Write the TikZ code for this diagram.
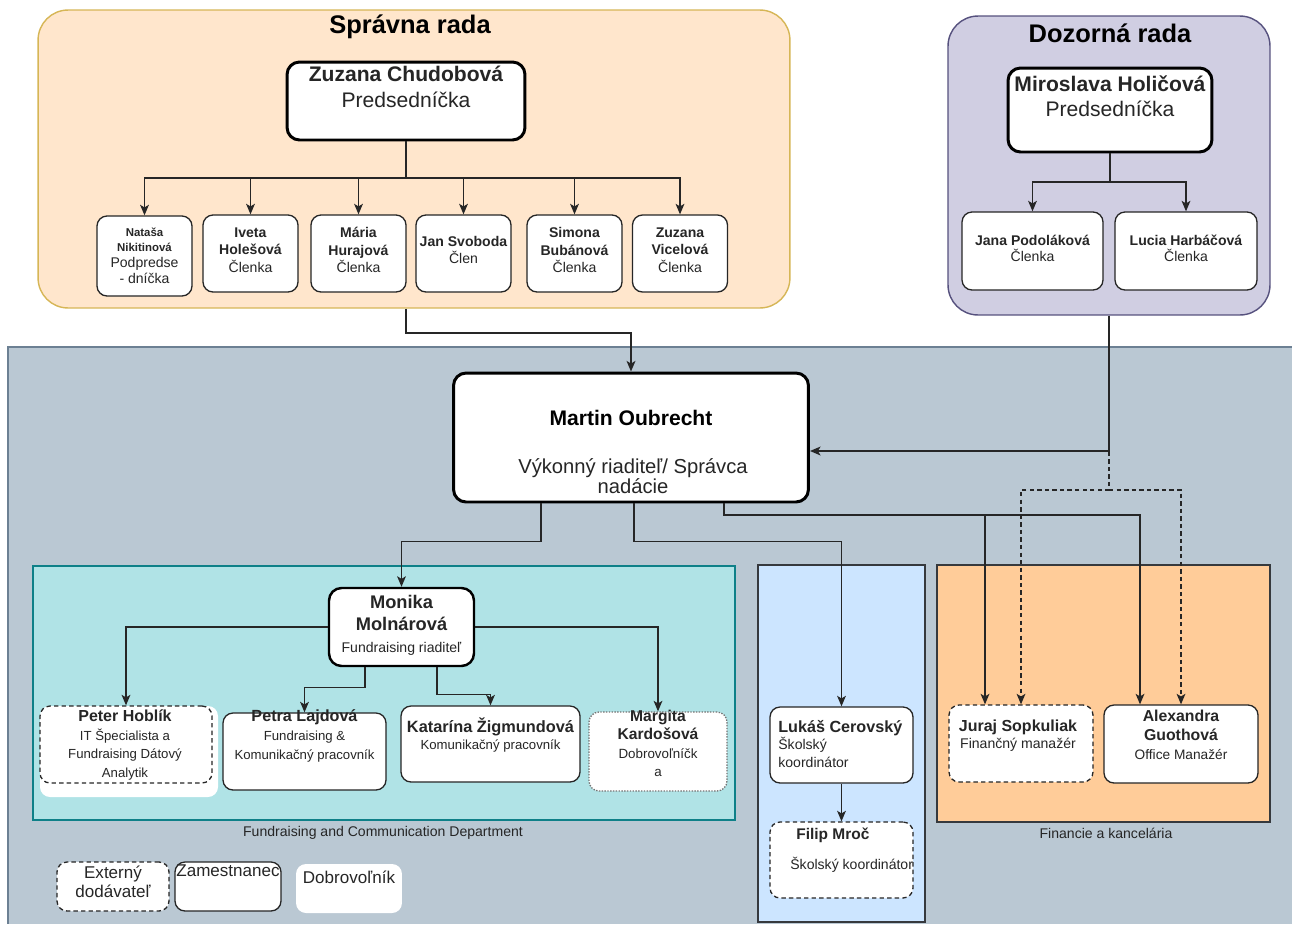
\documentclass[tikz,border=0pt]{standalone}
\usepackage{fontspec}
\setmainfont{Liberation Sans}
\usetikzlibrary{arrows.meta}

\definecolor{srfill}{HTML}{FFE6CC}
\definecolor{srline}{HTML}{D6B656}
\definecolor{drfill}{HTML}{D0CEE2}
\definecolor{drline}{HTML}{56517E}
\definecolor{bgfill}{HTML}{BAC8D3}
\definecolor{bgline}{HTML}{6C8093}
\definecolor{fcfill}{HTML}{B0E3E6}
\definecolor{fcline}{HTML}{0E8088}
\definecolor{skfill}{HTML}{CCE5FF}
\definecolor{fkfill}{HTML}{FFCC99}
\definecolor{deptline}{HTML}{36393D}
\definecolor{ink}{HTML}{262626}

\newcommand{\fsz}[2]{\fontsize{#1}{#2}\selectfont}
\newcommand{\bnm}[2]{{\fontsize{#1}{#1}\selectfont\bfseries #2}}

\begin{document}
\begin{tikzpicture}[
    x=0.02cm, y=-0.02cm,
    board/.style={draw=#1, rounded corners=0.6cm, line width=0.8pt, inner sep=0pt},
    dept/.style={draw=deptline, line width=0.6pt},
    card/.style={draw=ink, fill=white, rounded corners=0.2cm, line width=0.75pt, inner sep=0pt},
    lead/.style={card, draw=black, line width=1.7pt, rounded corners=0.25cm},
    extern/.style={card, dash pattern=on 2.5pt off 1.8pt},
    volunt/.style={card, draw=black!55, dash pattern=on 0.8pt off 0.8pt},
    txt/.style={align=center, inner sep=0pt, text=ink},
    link/.style={draw=ink, line width=0.75pt, -{Stealth[length=6pt,width=5pt,inset=1.5pt]}},
    xlink/.style={link, dash pattern=on 2.5pt off 1.8pt},
    ]

    \useasboundingbox (0,0) rectangle (1292,924);

    % Staff area
    \fill[bgfill] (8,347) rectangle (1292,924);
    \draw[bgline, line width=0.6pt] (1292,347) -- (8,347) -- (8,924);

    % Boards
    \node[board=srline, fill=srfill, minimum width=15.04cm, minimum height=5.96cm] (sr) at (414,159) {};
    \node[board=drline, fill=drfill, minimum width=6.44cm, minimum height=5.98cm] (dr) at (1109,165.5) {};
    \node[txt, font=\fsz{14.5}{17}\bfseries, text=black] (srt) at (410,27) {Správna rada};
    \node[txt, font=\fsz{14.5}{17}\bfseries, text=black] (drt) at (1110,33) {Dozorná rada};

    % Departments
    \draw[dept, draw=fcline, fill=fcfill] (33,566) rectangle (735,820);
    \draw[dept, fill=skfill] (758,565) rectangle (925,922);
    \draw[dept, fill=fkfill] (937,565) rectangle (1270,822);
    \node[txt, font=\fsz{8}{10}] (fct) at (383,833) {Fundraising and Communication Department};
    \node[txt, font=\fsz{8}{10}] (fkt) at (1106,833) {Financie a kancelária};

    % Správna rada
    \node[lead, minimum width=4.76cm, minimum height=1.56cm] (zc) at (406,101) {};
    \node[txt, font=\fsz{12}{14.8}] (zc-t) at (406,87) {\textbf{Zuzana Chudobová}\\Predsedníčka};
    \coordinate (sbus) at (0,178);
    \draw[ink, line width=1.4pt] (zc.south) -- (zc.south |- sbus);

    \node[card, minimum width=1.9cm, minimum height=1.6cm] (nn) at (144.5,256) {};
    \node[txt, font=\fsz{8}{8.9}] (nn-t) at (144.5,255.5) {\bnm{6.5}{Nataša}\\\bnm{6.5}{Nikitinová}\\Podpredse\\- dníčka};
    \draw[link] (zc.south |- sbus) -| (nn.north);
    \foreach \n/\x/\who in {
        ih/250.5/{\textbf{Iveta}\\\textbf{Holešová}\\Členka},
        mhu/358.5/{\textbf{Mária}\\\textbf{Hurajová}\\Členka},
        jsv/463.5/{\textbf{Jan Svoboda}\\Člen},
        sb/574.5/{\textbf{Simona}\\\textbf{Bubánová}\\Členka},
        zv/680/{\textbf{Zuzana}\\\textbf{Vicelová}\\Členka}}{
        \node[card, minimum width=1.9cm, minimum height=1.54cm] (\n) at (\x,253.5) {};
        \node[txt, font=\fsz{8}{9.9}] (\n-t) at (\x,250) {\who};
        \draw[link] (zc.south |- sbus) -| (\n.north);
    }

    % Dozorná rada
    \node[lead, minimum width=4.08cm, minimum height=1.68cm] (mh) at (1110,110) {};
    \node[txt, font=\fsz{12}{14.5}] (mh-t) at (1110,96) {\textbf{Miroslava Holičová}\\Predsedníčka};
    \coordinate (dbus) at (0,182);
    \node[card, minimum width=2.82cm, minimum height=1.56cm] (jp) at (1032.5,251) {};
    \node[card, minimum width=2.84cm, minimum height=1.56cm] (lh) at (1186,251) {};
    \node[txt, font=\fsz{8}{9.2}] (jp-t) at (1032.5,248) {\textbf{Jana Podoláková}\\Členka};
    \node[txt, font=\fsz{8}{9.2}] (lh-t) at (1186,248) {\textbf{Lucia Harbáčová}\\Členka};
    \draw[link] (mh.south) -- (mh.south |- dbus) -| (jp.north);
    \draw[link] (mh.south |- dbus) -| (lh.north);

    % Executive director
    \node[lead, minimum width=7.1cm, minimum height=2.58cm] (mo) at (631,437.5) {};
    \node[txt, font=\fsz{12}{14}\bfseries, text=black] (mo-t) at (631,418) {Martin Oubrecht};
    \node[txt, font=\fsz{11.5}{11.4}] (mo-r) at (633,476) {Výkonný riaditeľ/ Správca\\nadácie};
    \draw[link, line width=1.1pt] (zc.south |- sr.south) -- ++(0,24) -| (mo.north);
    \draw[link, line width=1.1pt] (dr.south) |- ([yshift=-0.27cm]mo.east);

    % Fundraising and communication
    \node[lead, line width=1.4pt, minimum width=2.9cm, minimum height=1.56cm] (mm) at (401.5,627) {};
    \node[txt, font=\fsz{8}{12.5}] (mm-t) at (401.5,625) {\bnm{10.4}{Monika}\\\bnm{10.4}{Molnárová}\\Fundraising riaditeľ};
    \fill[white, rounded corners=0.2cm] (40,706) rectangle (218,797);
    \node[extern, minimum width=3.44cm, minimum height=1.54cm] (ph) at (126,744.5) {};
    \node[txt, font=\fsz{7.5}{10.7}] (ph-t) at (125,745) {\bnm{9.1}{Peter Hoblík}\\IT Špecialista a\\Fundraising Dátový\\Analytik};
    \node[card, minimum width=3.26cm, minimum height=1.54cm] (pl) at (304.5,751.5) {};
    \node[txt, font=\fsz{7.5}{10.6}] (pl-t) at (304.5,736) {\bnm{9.2}{Petra Lajdová}\\Fundraising \&\\Komunikačný pracovník};
    \node[card, minimum width=3.58cm, minimum height=1.52cm] (kz) at (490.5,744) {};
    \node[txt, font=\fsz{7.5}{10.2}] (kz-t) at (490.5,735) {\bnm{9.3}{Katarína Žigmundová}\\Komunikačný pracovník};
    \node[volunt, minimum width=2.76cm, minimum height=1.58cm] (mk) at (658,751.5) {};
    \node[txt, font=\fsz{7.6}{10.4}] (mk-t) at (658,743.5) {\bnm{8.9}{Margita}\\\bnm{8.9}{Kardošová}\\Dobrovoľníčk\\a};
    \draw[link] ([xshift=-1.8cm]mo.south) -- ++(0,38) -| (mm.north);
    \draw[link] (mm.west) -| (ph.north);
    \draw[link] ([xshift=-0.73cm]mm.south) -- ++(0,20) -| (pl.north);
    \draw[link] ([xshift=0.71cm]mm.south) -- ++(0,27) -| (kz.north);
    \draw[link] (mm.east) -| (mk.north);

    % School
    \node[card, minimum width=2.86cm, minimum height=1.52cm] (lc) at (841.5,745) {};
    \node[txt, align=left, anchor=west, font=\fsz{8}{9.9}] (lc-t) at (778,744) {\bnm{9.2}{Lukáš Cerovský}\\Školský\\koordinátor};
    \node[extern, minimum width=2.86cm, minimum height=1.52cm] (fm) at (841.5,860) {};
    \node[txt, align=left, anchor=west, font=\fsz{8}{10}] (fm-t) at (790,850) {\hspace*{0.12cm}\bnm{8.8}{Filip Mroč}\\[7pt]Školský koordinátor};
    \draw[link] ([xshift=0.06cm]mo.south) -- ++(0,38) -| (lc.north);
    \draw[link] (lc.south) -- (fm.north);

    % Finance and office
    \node[extern, minimum width=2.88cm, minimum height=1.54cm] (jso) at (1021,743.5) {};
    \node[txt, font=\fsz{8}{9.7}] (jso-t) at (1018,735.5) {\bnm{9.1}{Juraj Sopkuliak}\\Finančný manažér};
    \node[card, minimum width=3.08cm, minimum height=1.56cm] (ag) at (1181,744) {};
    \node[txt, font=\fsz{7.8}{10.7}] (ag-t) at (1181,735) {\bnm{9}{Alexandra}\\\bnm{9}{Guothová}\\Office Manažér};
    \coordinate (fbus) at (0,515);
    \coordinate (xbus) at (0,490);
    \coordinate (jsoin) at ([xshift=-0.72cm]jso.north);
    \coordinate (agin) at ([xshift=-0.82cm]ag.north);
    \draw[link] ([xshift=1.86cm]mo.south) |- (agin |- fbus) -- (agin);
    \draw[link] (jsoin |- fbus) -- (jsoin);
    \draw[xlink] (dr.south) -- (dr.south |- xbus) -| (jso.north);
    \draw[xlink] (dr.south |- xbus) -| (ag.north);

    % Legend
    \node[extern, minimum width=2.24cm, minimum height=0.98cm] (lex) at (113,886.5) {};
    \node[txt, font=\fsz{9.7}{10.8}] (lex-t) at (113,882) {Externý\\dodávateľ};
    \node[card, minimum width=2.12cm, minimum height=0.98cm] (lem) at (228,886.5) {};
    \node[txt, font=\fsz{9.7}{10.8}] (lem-t) at (228,871) {Zamestnanec};
    \node[card, draw=none, minimum width=2.12cm, minimum height=0.98cm] (ldo) at (349,888.5) {};
    \node[txt, font=\fsz{9.7}{10.8}] (ldo-t) at (349,877) {Dobrovoľník};
\end{tikzpicture}
\end{document}
